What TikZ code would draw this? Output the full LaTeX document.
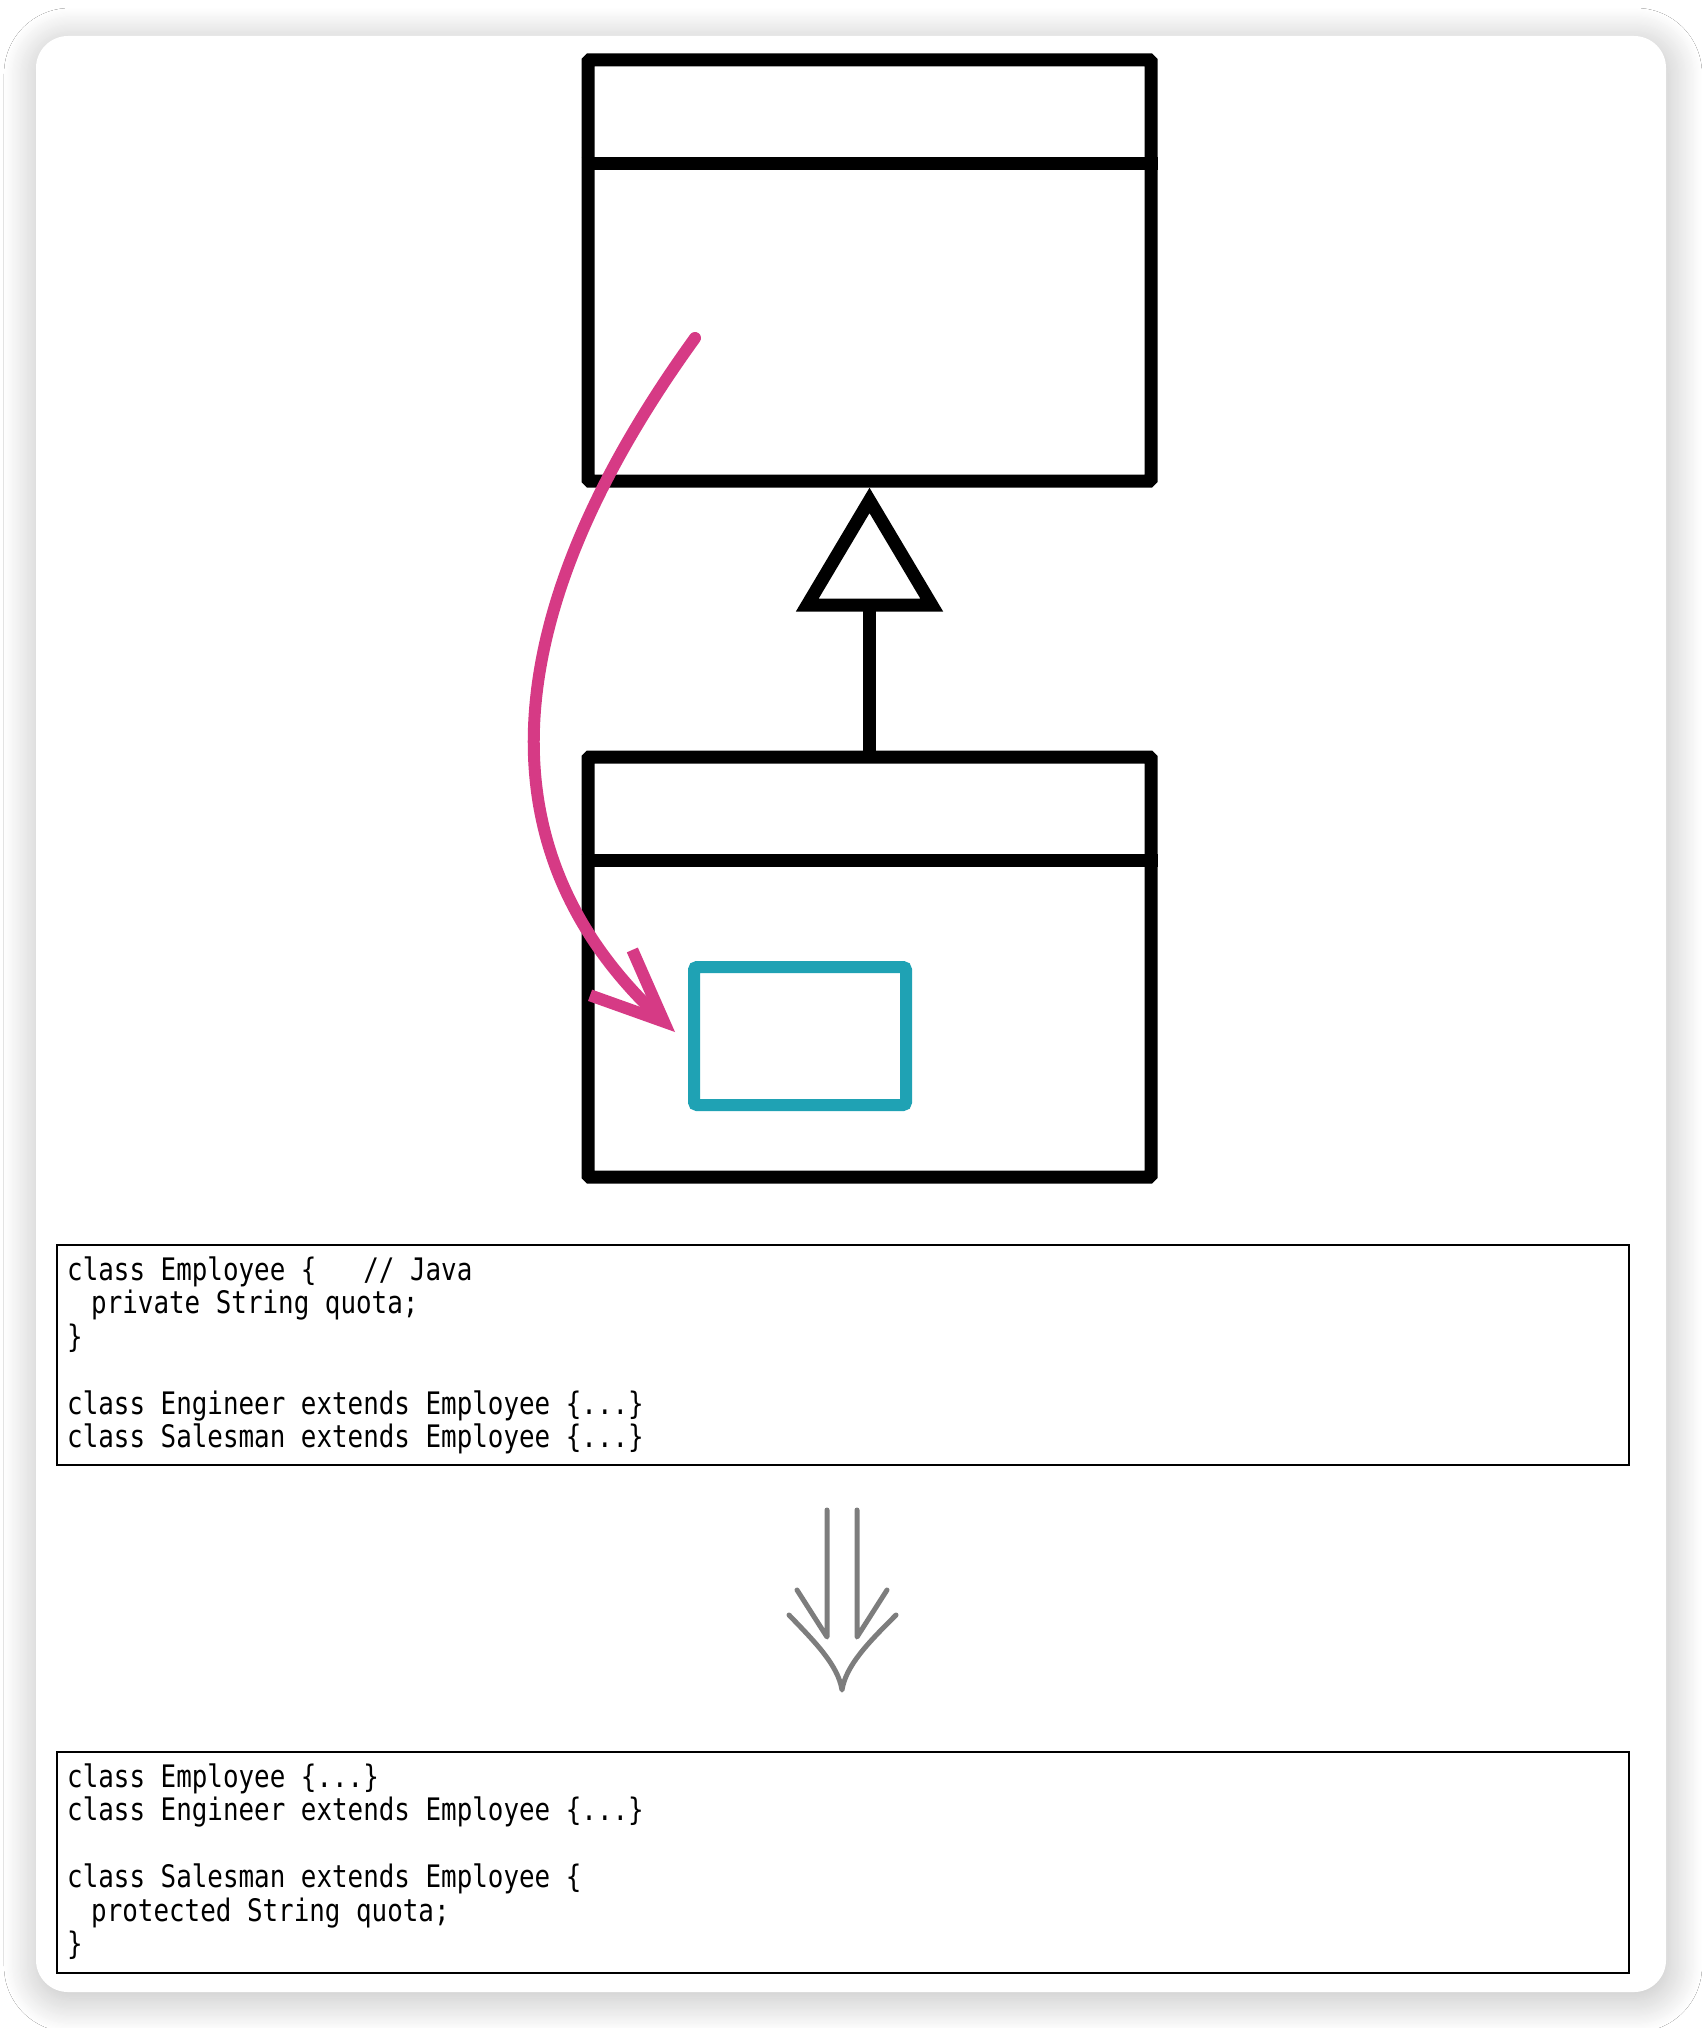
\documentclass[tikz,border=0pt]{standalone}
\usepackage{fontspec}
\usetikzlibrary{arrows.meta,shadows.blur,calc}
\newfontfamily\codefont{DejaVu Sans Mono}[FakeStretch=0.835]
\definecolor{hotpink}{RGB}{214,58,133}
\definecolor{tealbox}{RGB}{31,162,180}
\definecolor{arrowgray}{RGB}{125,125,125}
\tikzset{
  card/.style={fill=white, rounded corners=32pt,
    blur shadow={shadow xshift=2pt, shadow yshift=-6pt,
      shadow blur radius=34pt, shadow opacity=27, shadow blur steps=30}},
  umlclass/.style={draw=black, line width=13pt, minimum width=563pt,
    inner sep=0pt, outer sep=6.5pt, rounded corners=1.5pt},
  umlline/.style={draw=black, line width=13pt},
  field/.style={draw=tealbox, line width=12pt, minimum width=212pt,
    minimum height=138pt, rounded corners=3pt, inner sep=0pt},
  codebox/.style={draw=black, line width=2pt, minimum width=1572pt,
    minimum height=220pt, inner sep=0pt, outer sep=0pt, anchor=north west},
  code/.style={font=\codefont\fontsize{31}{33.5}\selectfont,
    align=left, inner sep=0pt, anchor=north west},
  pushdown/.style={draw=hotpink, line width=12pt, line cap=round,
    -{Straight Barb[length=72pt, width=62pt]}},
  refine/.style={draw=arrowgray, line width=5pt, line cap=round, line join=round},
}
\newcommand{\indentcode}{\hspace*{24pt}}
\begin{document}
\begin{tikzpicture}[x=1pt, y=-1pt]
\useasboundingbox (0,0) rectangle (1702,2028);
\fill[white] (0,0) rectangle (1702,2028);

% card with soft drop shadow
\path[card] (36,36) rectangle (1666,1992);

% superclass and subclass boxes
\node[umlclass, minimum height=421pt] (super) at (869.5,270.5) {};
\draw[umlline] ($(super.north west)+(0,110.5)$) -- ($(super.north east)+(0,110.5)$);
\node[umlclass, minimum height=420pt] (sub) at (869.5,967) {};
\draw[umlline] ($(sub.north west)+(0,109.5)$) -- ($(sub.north east)+(0,109.5)$);

% generalization
\draw[umlline, -{Triangle[open, length=124pt, width=144pt]}] (sub.north) -- (super.south);

% pushed-down field
\node[field] (fld) at (800,1036) {};

% move arrow
\coordinate (src) at (695,338);
\draw[pushdown] (src) .. controls (520,580) and (458,830) .. ([xshift=-13pt, yshift=4pt]fld.west);

% code before
\node[codebox] (before) at (57,1245) {};
\node[code] (beforetxt) at (67,1255) {\rule{0pt}{25pt}class Employee \{~~~//~Java\\
\indentcode private String quota;\\
\}\\
\mbox{}\\
class Engineer extends Employee \{...\}\\
class Salesman extends Employee \{...\}};

% refinement arrow
\coordinate (dtip) at (842,1690);
\draw[refine] (827,1510) -- (827,1637) -- (797,1590);
\draw[refine] (857,1510) -- (857,1637) -- (887,1590);
\draw[refine] (789,1615) .. controls (815,1642) and (838,1665) .. (dtip)
  .. controls (846,1665) and (869,1642) .. (896,1615);

% code after
\node[codebox, minimum height=221pt] (after) at (57,1752) {};
\node[code] (aftertxt) at (67,1762) {\rule{0pt}{25pt}class Employee \{...\}\\
class Engineer extends Employee \{...\}\\
\mbox{}\\
class Salesman extends Employee \{\\
\indentcode protected String quota;\\
\}};
\end{tikzpicture}
\end{document}
